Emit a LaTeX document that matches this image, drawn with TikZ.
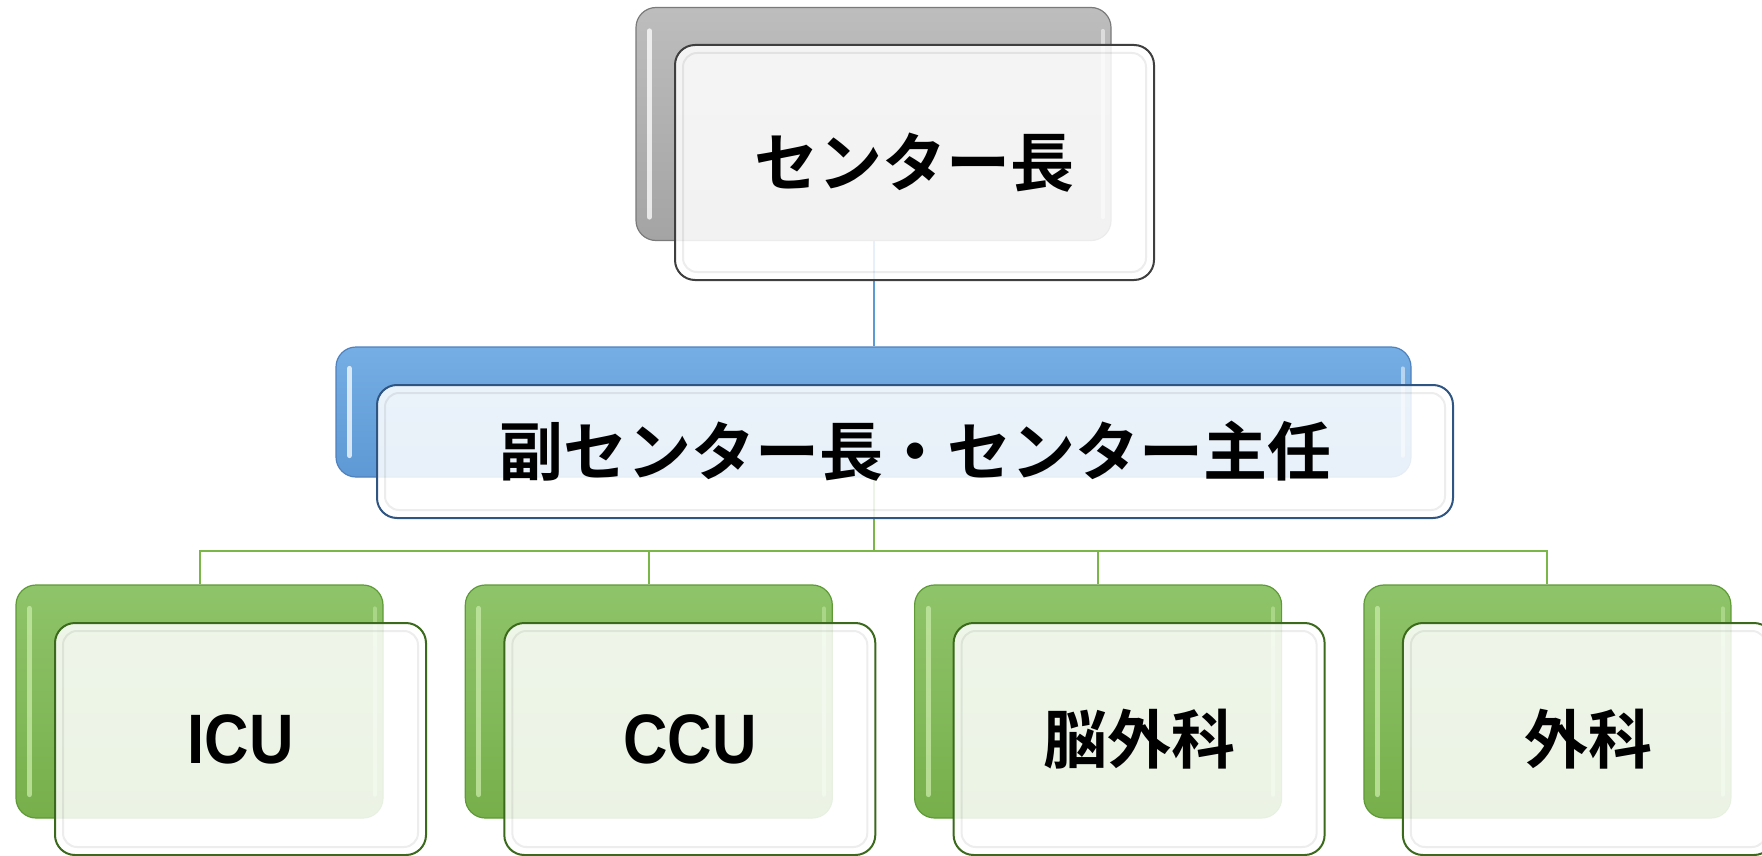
\documentclass[tikz,border=0pt]{standalone}
\usepackage{graphicx}
\usepackage{fontspec}
\newfontfamily\jp{Noto Sans CJK JP Bold}
\newfontfamily\lat{Liberation Sans Bold}
\definecolor{grayTop}{HTML}{BDBDBD}
\definecolor{grayBot}{HTML}{A4A4A4}
\definecolor{grayRim}{HTML}{7A7A7A}
\definecolor{grayEdge}{HTML}{3F3F3F}
\definecolor{blueTop}{HTML}{75AEE4}
\definecolor{blueBot}{HTML}{5E99D5}
\definecolor{blueRim}{HTML}{4F81BD}
\definecolor{blueEdge}{HTML}{2F5582}
\definecolor{blueLine}{HTML}{5B9BD5}
\definecolor{greenTop}{HTML}{8FC46A}
\definecolor{greenBot}{HTML}{77AF4B}
\definecolor{greenRim}{HTML}{5E9A36}
\definecolor{greenEdge}{HTML}{3B6A1C}
\definecolor{greenLine}{HTML}{7AB648}
\definecolor{greenHi}{HTML}{C9EBA8}
\begin{document}
\begin{tikzpicture}[x=1pt,y=-1pt,
  backbox/.style={rounded corners=20pt, line width=1.2pt, inner sep=0pt},
  frontbox/.style={rounded corners=20pt, line width=2pt, inner sep=0pt,
    fill=white, fill opacity=0.86, text opacity=1, draw opacity=1},
  grayback/.style={backbox, draw=grayRim, top color=grayTop, bottom color=grayBot},
  blueback/.style={backbox, draw=blueRim, top color=blueTop, bottom color=blueBot},
  greenback/.style={backbox, draw=greenRim, top color=greenTop, bottom color=greenBot},
  grayfront/.style={frontbox, draw=grayEdge},
  bluefront/.style={frontbox, draw=blueEdge},
  greenfront/.style={frontbox, draw=greenEdge},
  topsize/.style={minimum width=475pt, minimum height=233pt},
  topfsize/.style={minimum width=479pt, minimum height=235pt},
  midsize/.style={minimum width=1075pt, minimum height=130pt},
  midfsize/.style={minimum width=1076pt, minimum height=133pt},
  botsize/.style={minimum width=367pt, minimum height=233pt},
  botfsize/.style={minimum width=371pt, minimum height=232pt},
  jptext/.style={font=\jp\fontsize{64pt}{70pt}\selectfont},
  lattext/.style={font=\lat\fontsize{70pt}{76pt}\selectfont},
  blueconn/.style={draw=blueLine, line width=2pt},
  greenconn/.style={draw=greenLine, line width=2pt},
  hiL/.style={line width=5pt, line cap=round, opacity=0.75},
  hiR/.style={line width=4pt, line cap=round, opacity=0.5},
  rim/.style={rounded corners=14pt, line width=2pt, draw=black, draw opacity=0.07}
]
\useasboundingbox (0,0) rectangle (1762,856);
\clip (0,0) rectangle (1762,856);

% ---- back boxes ----
\node[grayback, topsize] (topB) at (873.5,124) {};
\node[blueback, midsize] (midB) at (873.5,412) {};
\foreach \i/\x in {1/199.5, 2/648.8, 3/1098.1, 4/1547.4}{
  \node[greenback, botsize] (b\i) at (\x,701.5) {};
}

% ---- highlights on back boxes ----
\draw[white, hiL] ([xshift=14pt,yshift=-24pt]topB.north west) -- ([xshift=14pt,yshift=24pt]topB.south west);
\draw[white, hiR] ([xshift=-9pt,yshift=-24pt]topB.north east) -- ([xshift=-9pt,yshift=24pt]topB.south east);
\draw[white, hiL] ([xshift=14pt,yshift=-22pt]midB.north west) -- ([xshift=14pt,yshift=22pt]midB.south west);
\draw[white, hiR] ([xshift=-9pt,yshift=-22pt]midB.north east) -- ([xshift=-9pt,yshift=22pt]midB.south east);
\foreach \i in {1,2,3,4}{
  \draw[greenHi, hiL] ([xshift=14pt,yshift=-24pt]b\i.north west) -- ([xshift=14pt,yshift=24pt]b\i.south west);
  \draw[greenHi, hiR] ([xshift=-9pt,yshift=-24pt]b\i.north east) -- ([xshift=-9pt,yshift=24pt]b\i.south east);
}

% ---- connectors ----
\coordinate (bus) at (873.5,551);
\draw[blueconn] (topB.south) -- (midB.north);
\foreach \i in {1,2,3,4}{
  \draw[greenconn] (midB.south) -- (midB.south |- bus) -| (b\i.north);
}

% ---- front boxes ----
\node[grayfront, topfsize, jptext] (topF) at (914.5,162.5) {\raisebox{3pt}{センター長}};
\node[bluefront, midfsize, jptext] (midF) at (915,451.5) {\raisebox{3pt}{副センター長・センター主任}};
\node[greenfront, botfsize, lattext] (f1) at (240.5,739) {\scalebox{0.88}[1]{ICU}};
\node[greenfront, botfsize, lattext] (f2) at (689.8,739) {\scalebox{0.88}[1]{CCU}};
\node[greenfront, botfsize, jptext] (f3) at (1139.1,739) {脳外科};
\node[greenfront, botfsize, jptext] (f4) at (1588.4,739) {外科};

% ---- glossy rims on front boxes ----
\foreach \n in {topF, midF, f1, f2, f3, f4}{
  \draw[rim] ([shift={(9pt,-9pt)}]\n.north west) rectangle ([shift={(-9pt,9pt)}]\n.south east);
}
\end{tikzpicture}
\end{document}
